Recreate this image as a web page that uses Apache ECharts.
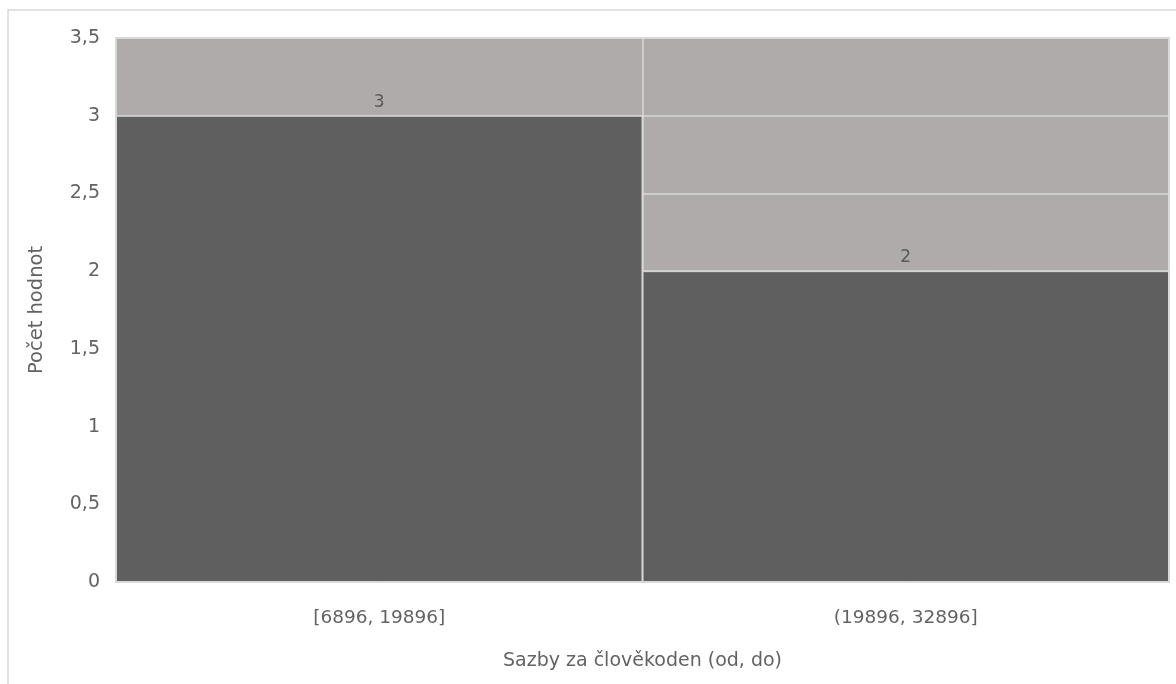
<!DOCTYPE html>
<html><head><meta charset="utf-8">
<script src="https://cdn.jsdelivr.net/npm/echarts@6/dist/echarts.min.js"></script>
<style>html,body{margin:0;padding:0;background:#fff}#c{width:1176px;height:684px}</style>
</head><body><div id="c"></div>
<script>
var categories = ['[6896, 19896]', '(19896, 32896]'];
var counts = [3, 2];
var xTitle = 'Sazby za člověkoden (od, do)';
var yTitle = 'Počet hodnot';

var chart = echarts.init(document.getElementById('c'));
var font = 'DejaVu Sans';
chart.setOption({
  animation: false,
  backgroundColor: '#ffffff',
  graphic: [{
    type: 'rect', shape: {x: 8, y: 10, width: 1200, height: 700},
    style: {fill: 'none', stroke: '#d9d9d9', lineWidth: 1.5}, silent: true, z: -10
  }],
  grid: {left: 116, right: 7, top: 38, bottom: 102, show: true,
    backgroundColor: '#afabab', borderColor: '#d9d9d9', borderWidth: 2},
  xAxis: {
    type: 'category', data: categories,
    name: xTitle, nameLocation: 'middle', nameGap: 70,
    nameTextStyle: {fontFamily: font, fontSize: 19, color: '#636363'},
    axisLine: {show: false}, axisTick: {show: false},
    axisLabel: {fontFamily: font, fontSize: 18.5, color: '#636363', margin: 27},
    splitLine: {show: true, lineStyle: {color: '#d9d9d9', width: 1.5}}
  },
  yAxis: {
    type: 'value', min: 0, max: 3.5, interval: 0.5,
    name: yTitle, nameLocation: 'middle', nameGap: 69,
    nameTextStyle: {fontFamily: font, fontSize: 19.5, color: '#636363'},
    axisLine: {show: false}, axisTick: {show: false},
    axisLabel: {fontFamily: font, fontSize: 19, color: '#636363', margin: 16,
      padding: [5, 0, 0, 0],
      formatter: function (v) { return String(v).replace('.', ','); }},
    splitLine: {show: true, lineStyle: {color: '#d9d9d9', width: 1.5}}
  },
  series: [{
    type: 'bar', data: counts, barCategoryGap: '0%',
    itemStyle: {color: '#5f5f5f', borderColor: '#d9d9d9', borderWidth: 1},
    label: {show: true, position: 'top', distance: 5, fontFamily: font, fontSize: 17, color: '#595959'}
  }]
});
</script></body></html>
